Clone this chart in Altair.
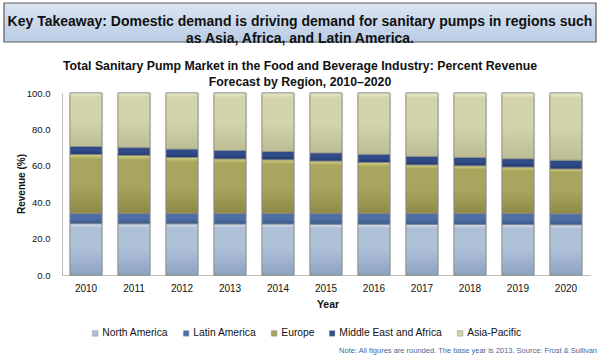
import altair as alt
import pandas as pd

years = ["2010", "2011", "2012", "2013", "2014", "2015", "2016", "2017", "2018", "2019", "2020"]
regions = ["North America", "Latin America", "Europe", "Middle East and Africa", "Asia-Pacific"]
north_america = [28.2, 28.1, 28.1, 28.0, 28.0, 27.9, 27.9, 27.8, 27.8, 27.7, 27.6]
latin_america = [5.6, 5.7, 5.7, 5.8, 5.8, 5.9, 5.9, 6.0, 6.0, 6.1, 6.1]
europe = [32.4, 31.9, 30.8, 30.0, 29.5, 28.8, 28.0, 26.7, 26.2, 25.5, 24.6]
middle_east_africa = [4.4, 4.3, 4.6, 4.6, 4.6, 4.5, 4.5, 4.7, 4.6, 4.6, 4.8]
asia_pacific = [round(100 - a - b - c - d, 1) for a, b, c, d in
                zip(north_america, latin_america, europe, middle_east_africa)]

series = [north_america, latin_america, europe, middle_east_africa, asia_pacific]
flat_colors = ["#adbfd8", "#4e6fa6", "#a6a45c", "#2f4b88", "#d3d3aa"]
grad_stops = [
    ("#d6e1f0", "#aebfd8", "#8fa2bf"),
    ("#7290c4", "#4e6fa6", "#3a5888"),
    ("#d2d07e", "#a8a65e", "#8c8a45"),
    ("#4c6aab", "#2f4b88", "#22396c"),
    ("#ecebc9", "#d4d4ac", "#bdbd95"),
]

rows = []
for ri, (reg, vals) in enumerate(zip(regions, series)):
    for y, v in zip(years, vals):
        rows.append({"year": y, "region": reg, "value": v, "idx": ri})
df = pd.DataFrame(rows)

FONT = "Liberation Sans, Arial, sans-serif"

base = alt.Chart(df).transform_stack(
    stack="value", as_=["y0", "y1"], groupby=["year"], sort=[alt.SortField("idx")]
)

xenc = alt.X("year:N", title=None, sort=years,
             scale=alt.Scale(paddingInner=0.333, paddingOuter=0.1667),
             axis=alt.Axis(labelAngle=0, ticks=False, labelPadding=8, labelFontSize=10,
                           labelColor="#111", labelFont=FONT, domainColor="#bcbcbc"))
yenc = alt.Y("y0:Q", title=None, scale=alt.Scale(domain=[0, 100], nice=False),
             axis=alt.Axis(values=[0, 20, 40, 60, 80, 100], format=".1f", grid=False,
                           ticks=False, labelPadding=12, labelFontSize=9.5,
                           labelOverlap=False, labelFlush=False,
                           labelColor="#111", labelFont=FONT, domainColor="#bcbcbc"))

legend_bars = base.mark_bar(stroke="#8c8c8c", strokeWidth=0.8).encode(
    x=xenc, y=yenc, y2="y1:Q",
    color=alt.Color("region:N", sort=regions,
                    scale=alt.Scale(domain=regions, range=flat_colors),
                    legend=alt.Legend(title=None, orient="none", direction="horizontal",
                                      legendX=28, legendY=235, symbolType="square",
                                      symbolSize=30, symbolStrokeColor="#8c8c8c",
                                      symbolStrokeWidth=0.5, labelFontSize=10.3,
                                      labelFont=FONT, labelColor="#111", labelOffset=2,
                                      columnPadding=12, padding=0)),
)

layers = [legend_bars]
for reg, (c0, c1, c2) in zip(regions, grad_stops):
    grad = alt.LinearGradient(
        gradient="linear", x1=0, y1=0, x2=0, y2=1,
        stops=[alt.GradientStop(color=c0, offset=0),
               alt.GradientStop(color=c1, offset=0.08),
               alt.GradientStop(color=c1, offset=0.5),
               alt.GradientStop(color=c2, offset=1)])
    layers.append(
        base.transform_filter(alt.datum.region == reg).mark_bar(
            color=grad, stroke="#8c8c8c", strokeWidth=0.8
        ).encode(x=xenc, y=yenc, y2="y1:Q")
    )

one = alt.Data(values=[{"a": 1}])

box = alt.Chart(one).mark_rect(
    color=alt.LinearGradient(gradient="linear", x1=0, y1=0, x2=0, y2=1,
                             stops=[alt.GradientStop(color="#dbe5f2", offset=0),
                                    alt.GradientStop(color="#b9cce5", offset=1)]),
    stroke="#5a5a5a", strokeWidth=1.2
).encode(x=alt.value(-58), x2=alt.value(534), y=alt.value(-90), y2=alt.value(-51))

takeaway = alt.Chart(one).mark_text(
    text=["Key Takeaway: Domestic demand is driving demand for sanitary pumps in regions such",
          "as Asia, Africa, and Latin America."],
    font=FONT, fontSize=14, fontWeight="bold", color="#111", lineHeight=17,
    align="center", baseline="middle"
).encode(x=alt.value(238), y=alt.value(-71))

title = alt.Chart(one).mark_text(
    text=["Total Sanitary Pump Market in the Food and Beverage Industry: Percent Revenue",
          "Forecast by Region, 2010\u20132020"],
    font=FONT, fontSize=12.3, fontWeight="bold", color="#111", lineHeight=16,
    align="center", baseline="middle"
).encode(x=alt.value(238), y=alt.value(-27))

ytitle = alt.Chart(one).mark_text(
    text="Revenue (%)", font=FONT, fontSize=10, fontWeight="bold", color="#111",
    angle=270, align="center", baseline="middle"
).encode(x=alt.value(-40), y=alt.value(91))

xtitle = alt.Chart(one).mark_text(
    text="Year", font=FONT, fontSize=10.5, fontWeight="bold", color="#111",
    align="center", baseline="middle"
).encode(x=alt.value(266), y=alt.value(212))

note = alt.Chart(one).mark_text(
    text="Note: All figures are rounded. The base year is 2013. Source: Frost & Sullivan",
    font=FONT, fontSize=7.5, color="#4a6796", align="right", baseline="middle"
).encode(x=alt.value(535), y=alt.value(258))

chart = alt.layer(*layers, box, takeaway, title, ytitle, xtitle, note).properties(
    width=528, height=182,
    autosize=alt.AutoSizeParams(type="none"),
    padding={"left": 62, "top": 93, "right": 10, "bottom": 81},
    background="white",
).configure_view(stroke=None).configure_axis(labelOverlap=False)

chart.save("out.html", embed_options={"renderer": "svg", "actions": False})
